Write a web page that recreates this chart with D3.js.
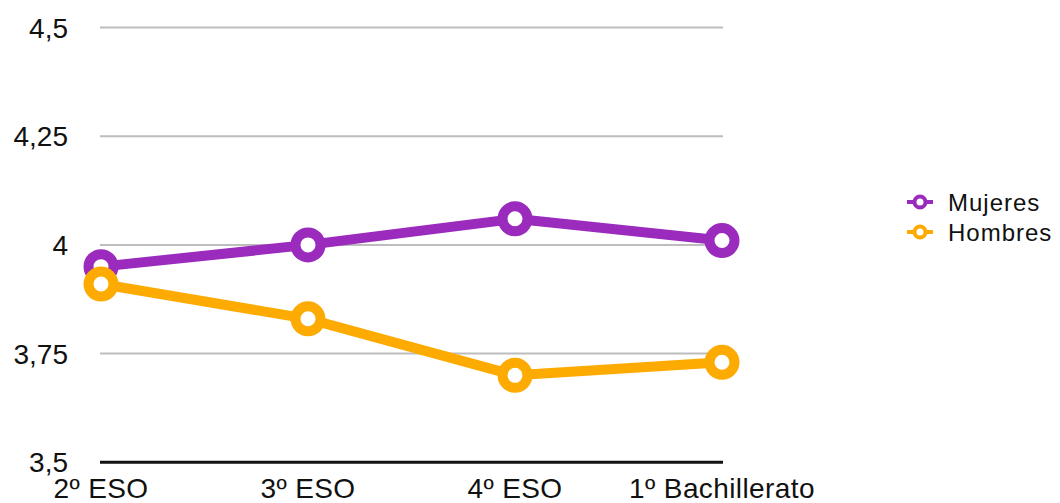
<!DOCTYPE html>
<html>
<head>
<meta charset="utf-8">
<script src="https://cdn.jsdelivr.net/npm/d3@7"></script>
<style>
  html, body { margin: 0; padding: 0; background: #fff; }
  svg { display: block; font-family: "Liberation Sans", Arial, Helvetica, sans-serif; }
</style>
</head>
<body>
<svg id="chart" width="1060" height="503"></svg>
<script>
// Course levels along the x axis
const categories = ["2º ESO", "3º ESO", "4º ESO", "1º Bachillerato"];
// Mean scores per group
const mujeres = [3.95, 4.00, 4.06, 4.01];
const hombres = [3.91, 3.83, 3.70, 3.73];
// Y axis ticks and labels
const yTicks = [3.5, 3.75, 4, 4.25, 4.5];
const yTickLabels = ["3,5", "3,75", "4", "4,25", "4,5"];

const seriesNames = ["Mujeres", "Hombres"];
const seriesColors = ["#9b2bbd", "#fdab00"];
const seriesValues = [mujeres, hombres];

const svg = d3.select("#chart");
const plotLeft = 101, plotRight = 722, plotTop = 27.5, plotBottom = 462.3;

const x = d3.scalePoint().domain(categories).range([plotLeft, plotRight]);
const y = d3.scaleLinear().domain([3.5, 4.5]).range([plotBottom, plotTop]);

// Horizontal grid lines
svg.append("g")
  .selectAll("line")
  .data(yTicks.filter(t => t !== 3.5))
  .join("line")
  .attr("x1", plotLeft - 1).attr("x2", plotRight + 1)
  .attr("y1", d => y(d)).attr("y2", d => y(d))
  .attr("stroke", "#bdbdbd").attr("stroke-width", 2);

// Baseline
svg.append("line")
  .attr("x1", plotLeft - 1).attr("x2", plotRight + 1)
  .attr("y1", y(3.5)).attr("y2", y(3.5))
  .attr("stroke", "#111").attr("stroke-width", 3);

// Y tick labels
svg.append("g")
  .selectAll("text")
  .data(yTicks)
  .join("text")
  .attr("x", 68)
  .attr("y", d => y(d))
  .attr("dy", "0.36em")
  .attr("text-anchor", "end")
  .attr("font-size", 28)
  .attr("fill", "#111")
  .text((d, i) => yTickLabels[i]);

// X tick labels
svg.append("g")
  .selectAll("text")
  .data(categories)
  .join("text")
  .attr("x", d => x(d))
  .attr("y", 498)
  .attr("text-anchor", "middle")
  .attr("font-size", 28)
  .attr("letter-spacing", 0.4)
  .attr("fill", "#111")
  .text(d => d);

// Series lines and markers
const line = d3.line()
  .x((d, i) => x(categories[i]))
  .y(d => y(d));

seriesValues.forEach((vals, s) => {
  const g = svg.append("g");
  g.append("path")
    .datum(vals)
    .attr("d", line)
    .attr("fill", "none")
    .attr("stroke", seriesColors[s])
    .attr("stroke-width", 10)
    .attr("stroke-linejoin", "round");
  g.selectAll("circle")
    .data(vals)
    .join("circle")
    .attr("cx", (d, i) => x(categories[i]))
    .attr("cy", d => y(d))
    .attr("r", 12.5)
    .attr("fill", "#fff")
    .attr("stroke", seriesColors[s])
    .attr("stroke-width", 10);
});

// Legend
const legend = svg.append("g");
seriesNames.forEach((name, i) => {
  const cy = 202 + i * 30;
  legend.append("line")
    .attr("x1", 907).attr("x2", 933)
    .attr("y1", cy).attr("y2", cy)
    .attr("stroke", seriesColors[i]).attr("stroke-width", 4);
  legend.append("circle")
    .attr("cx", 920).attr("cy", cy).attr("r", 5.5)
    .attr("fill", "#fff")
    .attr("stroke", seriesColors[i]).attr("stroke-width", 4);
  legend.append("text")
    .attr("x", 948).attr("y", cy)
    .attr("dy", "0.36em")
    .attr("font-size", 24)
    .attr("letter-spacing", 1)
    .attr("fill", "#111")
    .text(name);
});
</script>
</body>
</html>
